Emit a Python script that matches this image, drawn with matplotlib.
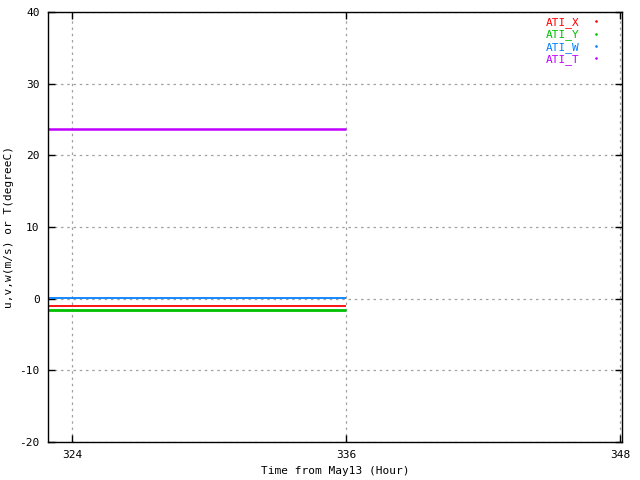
import matplotlib
matplotlib.use("Agg")
import matplotlib.pyplot as plt
from matplotlib.lines import Line2D

hours = [322.95, 326.0, 329.0, 332.0, 334.0, 336.0]
ati_x = [-1.05, -1.05, -1.05, -1.05, -1.05, -1.05]
ati_y = [-1.55, -1.55, -1.55, -1.55, -1.55, -1.55]
ati_w = [0.1, 0.1, 0.1, 0.1, 0.1, 0.1]
ati_t = [23.7, 23.7, 23.7, 23.7, 23.7, 23.7]

series = [("ATI_X", ati_x, "#ff0000", 1.3),
          ("ATI_Y", ati_y, "#00c000", 2.0),
          ("ATI_W", ati_w, "#0080ff", 1.3),
          ("ATI_T", ati_t, "#c000ff", 1.8)]

xticks = [324, 336, 348]
yticks = [-20, -10, 0, 10, 20, 30, 40]

plt.rcParams['font.family'] = ['DejaVu Sans Mono']
plt.rcParams['axes.unicode_minus'] = False
fig = plt.figure(figsize=(6.4, 4.8), dpi=100)
ax = fig.add_axes([48/640, 38/480, 574/640, 430/480])

for name, vals, col, lw in series:
    ax.plot(hours, vals, color=col, lw=lw, solid_capstyle='butt')

ax.set_xlim(322.95, 348.09)
ax.set_ylim(-20, 40)
ax.set_xticks(xticks)
ax.set_yticks(yticks)
ax.tick_params(direction='in', length=5, width=1, labelsize=8, pad=6)
ax.tick_params(top=True, right=True)
ax.grid(True, color='#a0a0a0', linestyle=(0, (2, 3)), linewidth=0.9)
for s in ax.spines.values():
    s.set_linewidth(1)
    s.set_color('black')

ax.set_xlabel("Time from May13 (Hour)", fontsize=8)
ax.set_ylabel("u,v,w(m/s) or T(degreeC)", fontsize=8)

handles = [Line2D([], [], color=col, marker='s', markersize=0.8, linestyle='None', label=name)
           for name, vals, col, lw in series]
leg = ax.legend(handles=handles, loc='upper right', frameon=False, markerfirst=False,
                fontsize=8, labelcolor='linecolor', handlelength=1.2, handletextpad=0.9,
                labelspacing=0.12, borderaxespad=0.0, borderpad=0.0,
                bbox_to_anchor=(0.967, 0.988))

fig.savefig("out.png", dpi=100)
